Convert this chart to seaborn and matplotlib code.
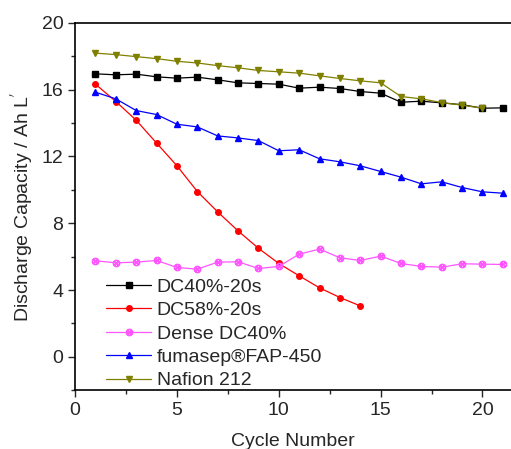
import matplotlib
matplotlib.use("Agg")
import matplotlib.pyplot as plt
from matplotlib.ticker import MultipleLocator
import pandas as pd
import seaborn as sns

cycles = list(range(1, 22))

dc40_20s = [16.95, 16.89, 16.93, 16.77, 16.69, 16.75, 16.59, 16.41, 16.37, 16.33,
            16.09, 16.15, 16.07, 15.89, 15.79, 15.25, 15.31, 15.21, 15.10, 14.89, 14.91]
dc58_20s = [16.33, 15.29, 14.17, 12.80, 11.44, 9.90, 8.68, 7.54, 6.50, 5.59,
            4.85, 4.13, 3.55, 3.05]
dense_dc40 = [5.75, 5.63, 5.67, 5.77, 5.35, 5.25, 5.67, 5.69, 5.29, 5.41,
              6.15, 6.45, 5.93, 5.77, 6.03, 5.59, 5.41, 5.37, 5.57, 5.55, 5.53]
fap450 = [15.85, 15.45, 14.75, 14.51, 13.93, 13.77, 13.23, 13.11, 12.95, 12.34,
          12.40, 11.86, 11.68, 11.44, 11.10, 10.76, 10.36, 10.48, 10.14, 9.88, 9.80]
nafion212 = [18.19, 18.10, 17.98, 17.86, 17.70, 17.60, 17.44, 17.31, 17.15, 17.07,
             16.99, 16.83, 16.67, 16.53, 16.41, 15.59, 15.45, 15.23, 15.07, 14.89]

series = [
    ("DC40%-20s", dc40_20s, "black", "s"),
    ("DC58%-20s", dc58_20s, "red", "o"),
    ("Dense DC40%", dense_dc40, "#ff55ff", r"$\otimes$"),
    ("fumasep\u00aeFAP-450", fap450, "blue", "^"),
    ("Nafion 212", nafion212, "#808000", "v"),
]

sns.set_style("ticks")
plt.rcParams["font.family"] = ["Liberation Sans", "DejaVu Sans"]

fig = plt.figure(figsize=(5.11, 4.49), dpi=100)
ax = fig.add_axes([0.147, 0.131, 0.853, 0.818])

for name, vals, color, marker in series:
    df = pd.DataFrame({"cycle": cycles[:len(vals)], "cap": vals})
    ms = 5 if marker.startswith("$") else 4
    sns.lineplot(data=df, x="cycle", y="cap", ax=ax, color=color, marker=marker,
                 markersize=ms, linewidth=0.9, markeredgecolor=color,
                 markeredgewidth=0.6 if marker.startswith("$") else 1,
                 label=name)

ax.set_xlim(0, 21.4)
ax.set_ylim(-2, 20)
ax.xaxis.set_major_locator(MultipleLocator(5))
ax.xaxis.set_minor_locator(MultipleLocator(2.5))
ax.yaxis.set_major_locator(MultipleLocator(4))
ax.yaxis.set_minor_locator(MultipleLocator(2))
ax.tick_params(axis="both", which="major", direction="out", length=5, width=1, labelsize=14)
ax.tick_params(axis="both", which="minor", direction="out", length=3, width=1)
for side in ["left", "bottom", "top"]:
    ax.spines[side].set_linewidth(1.2)
    ax.spines[side].set_color("black")
ax.spines["right"].set_visible(False)

ax.set_xlabel("Cycle Number", fontsize=14, labelpad=10)
ax.set_ylabel("Discharge Capacity / Ah L$^{'}$", fontsize=14, labelpad=5)

ax.legend(loc="lower left", bbox_to_anchor=(0.04, -0.035), frameon=False,
          fontsize=14, handlelength=2.3, handletextpad=0.3, labelspacing=0.3,
          borderaxespad=0.3)

fig.savefig("out.png", dpi=100)
